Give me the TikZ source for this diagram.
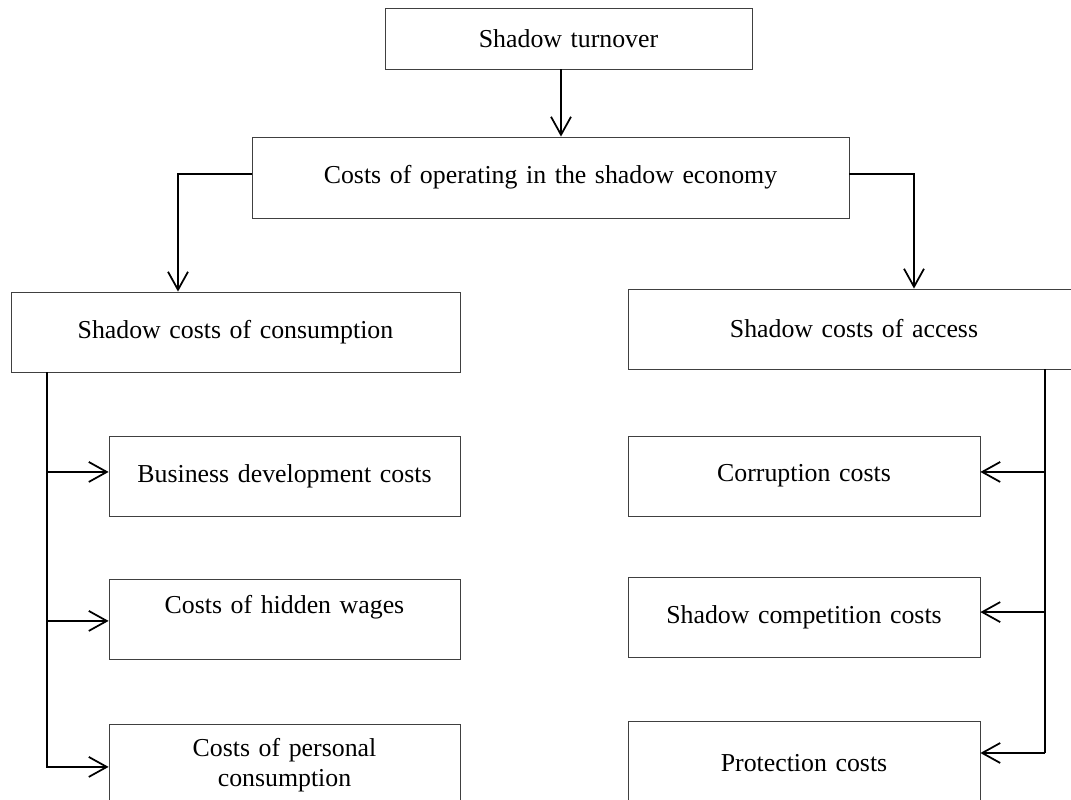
\documentclass[tikz,border=0pt]{standalone}
\usepackage{fontspec}
\setmainfont{Liberation Serif}
\usetikzlibrary{arrows.meta}

\tikzstyle{box} = [draw=black!75, line width=0.5pt, text centered, inner sep=0pt]
\tikzstyle{arr} = [-{Straight Barb[length=0.36cm, width=0.4cm, line width=1pt]}]

\begin{document}
\begin{tikzpicture}[x=0.02cm, y=-0.02cm,
font=\fontsize{14.7}{17}\selectfont,
line width=1.1pt,
]
\useasboundingbox (0,0) rectangle (1071,800);

% Top
\node[box, text width=7.34cm, minimum height=1.22cm] (turnover) at (568.5,38.5) {Shadow turnover};
\node[box, text width=11.94cm, minimum height=1.62cm] (operating) at (550.5,177.5) {Costs of operating in the shadow economy};

% Two branches
\node[box, text width=8.98cm, minimum height=1.6cm] (consumption) at (235.5,332) {Shadow costs of consumption};
\node[box, text width=9.04cm, minimum height=1.6cm] (access) at (854,329) {Shadow costs of access};

% Left column
\node[box, text width=7.02cm, minimum height=1.6cm] (busdev) at (284.5,476) {Business development costs};
\node[box, text width=7.02cm, minimum height=1.6cm] (wages) at (284.5,619) {Costs of hidden wages\\\mbox{}};
\node[box, text width=7.02cm, minimum height=1.64cm] (personal) at (284.5,765) {Costs of personal\\consumption};

% Right column
\node[box, text width=7.04cm, minimum height=1.6cm] (corruption) at (804,476) {Corruption costs};
\node[box, text width=7.04cm, minimum height=1.6cm] (competition) at (804,617) {Shadow competition costs};
\node[box, text width=7.04cm, minimum height=1.68cm] (protection) at (804,763) {Protection costs};

\coordinate (mid) at (561,0);
\coordinate (cl) at (178,0);
\coordinate (cr) at (914,0);
\coordinate (tl) at (47,0);
\coordinate (tr) at (1045,0);

\draw[arr] (turnover.south -| mid) -- (operating.north -| mid);
\draw[arr] ([yshift=2pt]operating.west) -| (consumption.north -| cl);
\draw[arr] ([yshift=2pt]operating.east) -| (access.north -| cr);

% trunks
\draw (consumption.south -| tl) -- ([yshift=-1.6pt]personal.west -| tl);
\draw (access.south -| tr) -- ([yshift=5.7pt]protection.east -| tr);
\draw[arr] ([yshift=2.3pt]busdev.west -| tl) -- ([yshift=2.3pt]busdev.west);
\foreach \n in {wages,personal}  {%
 \draw[arr] ([yshift=-1.1pt]\n.west -| tl) -- ([yshift=-1.1pt]\n.west);
}
\draw[arr] ([yshift=2.3pt]corruption.east -| tr) -- ([yshift=2.3pt]corruption.east);
\draw[arr] ([yshift=2.8pt]competition.east -| tr) -- ([yshift=2.8pt]competition.east);
\draw[arr] ([yshift=5.7pt]protection.east -| tr) -- ([yshift=5.7pt]protection.east);

\end{tikzpicture}
\end{document}
